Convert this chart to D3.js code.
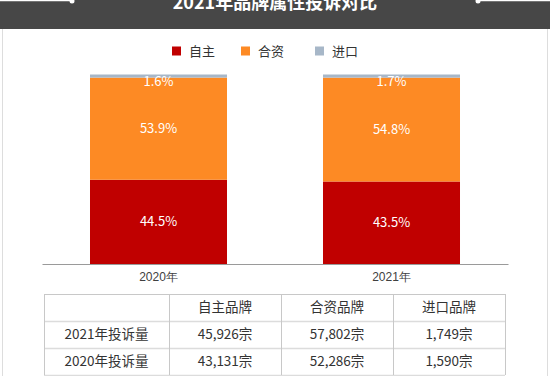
<!DOCTYPE html>
<html lang="zh">
<head>
<meta charset="UTF-8">
<title>2021年品牌属性投诉对比</title>
<style>
  body { margin: 0; background: #fff; }
  svg { display: block; font-family: "Noto Sans CJK SC", "Microsoft YaHei", sans-serif; }
  .title { font-size: 18px; font-weight: bold; fill: #fff; text-anchor: middle; }
  .legend text { font-size: 13px; fill: #333; }
  .seg-label { font-size: 13px; fill: #fff; text-anchor: middle; }
  .axis text { font-size: 12px; fill: #404040; }
  .cell { font-size: 13.5px; fill: #333; text-anchor: middle; }
</style>
</head>
<body>
<div id="chart"></div>
<script src="https://cdn.jsdelivr.net/npm/d3@7"></script>
<script>
  // data
  var years = ["2020年", "2021年"];
  var seriesNames = ["自主", "合资", "进口"];
  var brandCols = ["自主品牌", "合资品牌", "进口品牌"];
  var own = [43131, 45926];
  var joint = [52286, 57802];
  var imported = [1590, 1749];
  var tableYears = ["2021年", "2020年"];

  var colors = ["#c00000", "#fd8a24", "#a7b7c8"];

  var width = 550, height = 376;
  var svg = d3.select("#chart").append("svg")
    .attr("width", width)
    .attr("height", height);

  // header band
  svg.append("rect").attr("x", 0).attr("y", 0).attr("width", width).attr("height", 29).attr("fill", "#474747");
  svg.append("line").attr("x1", 0).attr("x2", 72).attr("y1", 0.5).attr("y2", 0.5).attr("stroke", "#fff").attr("stroke-width", 1.5);
  svg.append("circle").attr("cx", 72).attr("cy", 1).attr("r", 2.5).attr("fill", "#fff");
  svg.append("line").attr("x1", 478).attr("x2", 550).attr("y1", 0.5).attr("y2", 0.5).attr("stroke", "#fff").attr("stroke-width", 1.5);
  svg.append("circle").attr("cx", 478).attr("cy", 1).attr("r", 2.5).attr("fill", "#fff");
  svg.append("text").attr("class", "title").attr("x", 275).attr("y", 9).text("2021年品牌属性投诉对比");

  // side borders
  svg.append("line").attr("x1", 2.5).attr("x2", 2.5).attr("y1", 29).attr("y2", height).attr("stroke", "#ddd");
  svg.append("line").attr("x1", 547.5).attr("x2", 547.5).attr("y1", 29).attr("y2", height).attr("stroke", "#ddd");

  // legend
  var legendX = [172, 241, 315];
  var legend = svg.append("g").attr("class", "legend");
  seriesNames.forEach(function (name, i) {
    legend.append("rect").attr("x", legendX[i]).attr("y", 46.5).attr("width", 9).attr("height", 9).attr("fill", colors[i]);
    legend.append("text").attr("x", legendX[i] + 17).attr("y", 51).attr("dy", "0.35em").text(name);
  });

  // stacked 100% bars
  var rows = years.map(function (y, i) {
    return { year: y, "自主": own[i], "合资": joint[i], "进口": imported[i] };
  });
  var stack = d3.stack().keys(seriesNames).offset(d3.stackOffsetExpand);
  var series = stack(rows);

  var x = d3.scaleBand().domain(years).range([42, 508]).paddingInner(0.412).paddingOuter(0.206);
  var y = d3.scaleLinear().domain([0, 1]).range([264, 74.5]);
  var pct = d3.format(".1%");

  var groups = svg.selectAll(".series").data(series).enter().append("g")
    .attr("class", "series")
    .attr("fill", function (d, i) { return colors[i]; });

  groups.selectAll("rect").data(function (d) { return d; }).enter().append("rect")
    .attr("x", function (d) { return x(d.data.year); })
    .attr("y", function (d) { return y(d[1]); })
    .attr("width", x.bandwidth())
    .attr("height", function (d) { return y(d[0]) - y(d[1]); });

  groups.each(function (s, si) {
    d3.select(this.parentNode).selectAll(null).data(s).enter().append("text")
      .attr("class", "seg-label")
      .attr("x", function (d) { return x(d.data.year) + x.bandwidth() / 2; })
      .attr("y", function (d) {
        var h = y(d[0]) - y(d[1]);
        return h < 20 ? y(d[1]) + 7 : (y(d[0]) + y(d[1])) / 2;
      })
      .attr("dy", "0.35em")
      .text(function (d) { return pct(d[1] - d[0]); });
  });

  // x axis
  var axis = svg.append("g").attr("class", "axis").attr("transform", "translate(0,264)")
    .call(d3.axisBottom(x).tickSize(0).tickPadding(8));
  axis.select(".domain").attr("stroke", "#9a9a9a").attr("stroke-width", 1.2);

  // table
  var colX = [44, 169, 281, 393, 505];
  var rowY = [294, 321, 348, 375];
  var tbl = svg.append("g");
  rowY.forEach(function (ry, i) {
    tbl.append("line").attr("x1", colX[0]).attr("x2", colX[4]).attr("y1", ry + 0.5).attr("y2", ry + 0.5)
      .attr("stroke", i === 0 ? "#c8c8c8" : "#dcdcdc").attr("stroke-width", i === 0 ? 1 : 1.5);
  });
  colX.forEach(function (cx) {
    tbl.append("line").attr("x1", cx + 0.5).attr("x2", cx + 0.5).attr("y1", rowY[0]).attr("y2", rowY[3])
      .attr("stroke", "#c8c8c8");
  });
  function cell(text, ci, ri) {
    tbl.append("text").attr("class", "cell")
      .attr("x", (colX[ci] + colX[ci + 1]) / 2)
      .attr("y", (rowY[ri] + rowY[ri + 1]) / 2)
      .attr("dy", "0.36em")
      .text(text);
  }
  brandCols.forEach(function (b, i) { cell(b, i + 1, 0); });
  var counts = [own, joint, imported];
  var fmt = d3.format(",");
  tableYears.forEach(function (ty, r) {
    var yi = years.indexOf(ty);
    cell(ty + "投诉量", 0, r + 1);
    counts.forEach(function (c, ci) { cell(fmt(c[yi]) + "宗", ci + 1, r + 1); });
  });
</script>
</body>
</html>
